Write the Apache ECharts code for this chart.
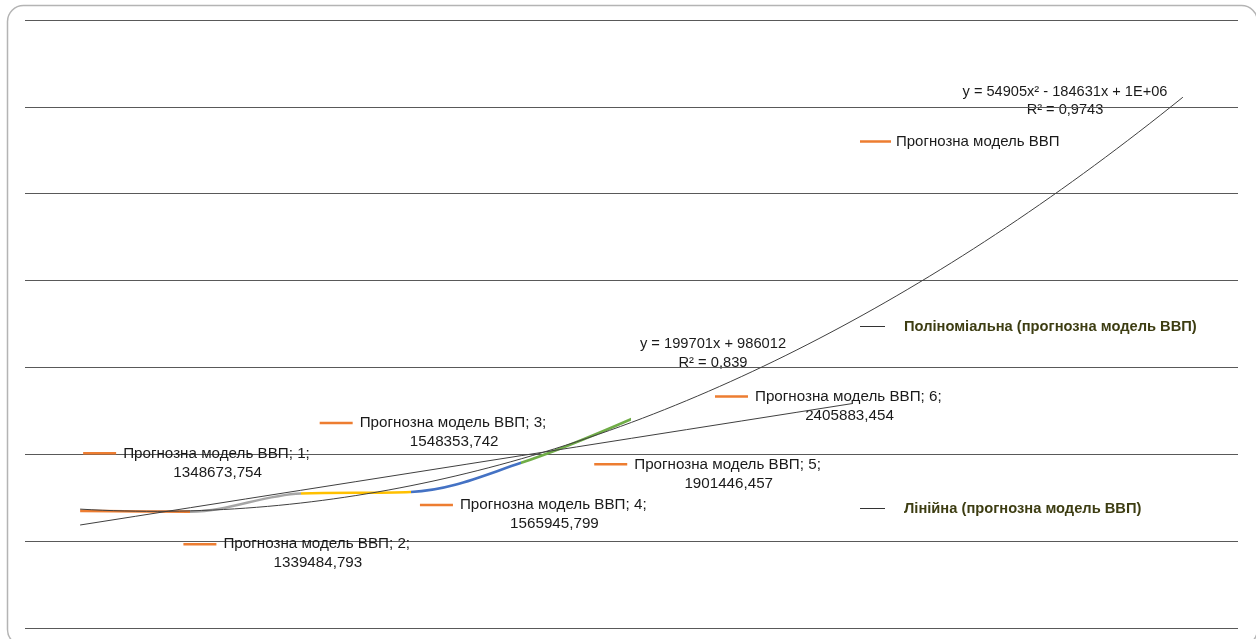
<!DOCTYPE html>
<html>
<head>
<meta charset="utf-8">
<script src="https://cdn.jsdelivr.net/npm/echarts@6/dist/echarts.min.js"></script>
<style>
html,body{margin:0;padding:0;background:#fff;}
#chart{width:1256px;height:639px;}
</style>
</head>
<body>
<div id="chart"></div>
<script>
// ---- data ----
const periods = [1, 2, 3, 4, 5, 6];
const gdpModel = [1348673.754, 1339484.793, 1548353.742, 1565945.799, 1901446.457, 2405883.454];
const valueLabels = ['1348673,754', '1339484,793', '1548353,742', '1565945,799', '1901446,457', '2405883,454'];
const seriesName = 'Прогнозна модель ВВП';
const polyName = 'Поліноміальна (прогнозна модель ВВП)';
const linName = 'Лінійна (прогнозна модель ВВП)';
const polyEq = ['y = 54905x² - 184631x + 1E+06', 'R² = 0,9743'];
const linEq = ['y = 199701x + 986012', 'R² = 0,839'];
const linForwardTo = 8;
const polyForwardTo = 11;

// ---- layout (label placement, px relative to point) ----
const labelOffsets = [[3, -67], [-7, 23], [19, -80], [9, 3.5], [73, -8], [83.5, -32]];
const segColors = ['#ED7D31', '#A5A5A5', '#FFC000', '#4472C4', '#70AD47'];

const FONT = '"Liberation Sans", Arial, sans-serif';
const FS = 15.2;

// ---- least squares fits from the data ----
function fitPoly(xs, ys, deg) {
  const n = deg + 1;
  const A = [];
  for (let i = 0; i < n; i++) A.push(new Array(n + 1).fill(0));
  for (let k = 0; k < xs.length; k++) {
    for (let i = 0; i < n; i++) {
      for (let j = 0; j < n; j++) A[i][j] += Math.pow(xs[k], i + j);
      A[i][n] += ys[k] * Math.pow(xs[k], i);
    }
  }
  for (let i = 0; i < n; i++) {
    let p = i;
    for (let r = i + 1; r < n; r++) if (Math.abs(A[r][i]) > Math.abs(A[p][i])) p = r;
    [A[i], A[p]] = [A[p], A[i]];
    for (let r = 0; r < n; r++) {
      if (r === i) continue;
      const f = A[r][i] / A[i][i];
      for (let c = i; c <= n; c++) A[r][c] -= f * A[i][c];
    }
  }
  return A.map((row, i) => row[n] / row[i]);
}
const linC = fitPoly(periods, gdpModel, 1);
const polyC = fitPoly(periods, gdpModel, 2);
function evalC(c, x) { let s = 0; for (let i = 0; i < c.length; i++) s += c[i] * Math.pow(x, i); return s; }
const linData = [];
for (let x = 1; x <= linForwardTo + 1e-9; x += 0.5) linData.push([x, evalC(linC, x)]);
const polyData = [];
for (let x = 1; x <= polyForwardTo + 1e-9; x += 0.1) polyData.push([x, evalC(polyC, x)]);

// ---- measure text for label block ----
const cv = document.createElement('canvas').getContext('2d');
cv.font = FS + 'px ' + FONT;

const mainData = periods.map((p, i) => {
  const t = seriesName + '; ' + p + ';';
  const W = Math.ceil(cv.measureText(t).width) + 2;
  return {
    value: [p, gdpModel[i]],
    label: {
      show: true,
      position: labelOffsets[i],
      align: 'left',
      verticalAlign: 'top',
      formatter: '{k|}{g|}{t|' + t + '}\n{s|}{n|' + valueLabels[i] + '}',
      rich: {
        k: { width: 33, height: 2.5, backgroundColor: '#ED7D31', verticalAlign: 'middle' },
        g: { width: 7 },
        t: { width: W, align: 'left', fontSize: FS, lineHeight: 19, color: '#1a1a1a', fontFamily: FONT },
        s: { width: 40 },
        n: { width: W, align: 'center', fontSize: FS, lineHeight: 19, color: '#1a1a1a', fontFamily: FONT }
      }
    }
  };
});

const chart = echarts.init(document.getElementById('chart'), null, { renderer: 'canvas' });
chart.setOption({
  animation: false,
  backgroundColor: '#fff',
  textStyle: { fontFamily: FONT },
  grid: { left: 25, right: 18, top: 20, bottom: 11 },
  xAxis: {
    type: 'value', min: 0.5, max: 11.5,
    show: false,
    splitLine: { show: false }
  },
  yAxis: {
    type: 'value', min: 0, max: 7000000, interval: 1000000,
    axisLine: { show: false }, axisTick: { show: false }, axisLabel: { show: false },
    splitLine: { show: true, lineStyle: { color: '#595959', width: 1.2 } }
  },
  visualMap: {
    type: 'piecewise', show: false, dimension: 0, seriesIndex: 0,
    pieces: segColors.map((c, i) => i === segColors.length - 1
      ? { gte: i + 1, lte: i + 2, color: c }
      : { gte: i + 1, lt: i + 2, color: c })
  },
  legend: [
    {
      data: [{ name: seriesName, icon: 'rect', itemStyle: { color: '#ED7D31', opacity: 1 } }],
      left: 860, top: 134, padding: 0, itemWidth: 31, itemHeight: 2.5,
      textStyle: { fontSize: 15, color: '#1a1a1a', fontFamily: FONT },
      selectedMode: false
    },
    {
      data: [{ name: polyName, icon: 'rect', itemStyle: { color: '#333333' } }],
      left: 860, top: 319, padding: 0, itemWidth: 25, itemHeight: 1,
      textStyle: { fontSize: 14.7, fontWeight: 'bold', color: '#3d3d12', fontFamily: FONT, padding: [0, 0, 0, 14] },
      selectedMode: false
    },
    {
      data: [{ name: linName, icon: 'rect', itemStyle: { color: '#333333' } }],
      left: 860, top: 501, padding: 0, itemWidth: 25, itemHeight: 1,
      textStyle: { fontSize: 14.7, fontWeight: 'bold', color: '#3d3d12', fontFamily: FONT, padding: [0, 0, 0, 14] },
      selectedMode: false
    }
  ],
  series: [
    {
      name: seriesName,
      type: 'line',
      smooth: 0.35,
      data: mainData,
      symbol: 'circle', symbolSize: 0.01,
      itemStyle: { color: '#ED7D31' },
      lineStyle: { width: 2.6 },
      z: 2
    },
    {
      name: polyName,
      type: 'line',
      data: polyData,
      showSymbol: false, symbol: 'none',
      lineStyle: { color: '#404040', width: 1 },
      itemStyle: { color: '#404040' },
      z: 3, silent: true
    },
    {
      name: linName,
      type: 'line',
      data: linData,
      showSymbol: false, symbol: 'none',
      lineStyle: { color: '#404040', width: 1 },
      itemStyle: { color: '#404040' },
      z: 3, silent: true
    }
  ],
  graphic: [
    {
      type: 'rect', silent: true, z: -1,
      shape: { x: 7.5, y: 5.5, width: 1250, height: 640, r: 16 },
      style: { fill: 'none', stroke: '#b4b4b4', lineWidth: 1.5 }
    },
    {
      type: 'text', silent: true,
      x: 1065, y: 83,
      style: { text: polyEq[0] + '\n' + polyEq[1], fill: '#1a1a1a', font: '14.6px ' + FONT, align: 'center', lineHeight: 18 }
    },
    {
      type: 'text', silent: true,
      x: 713, y: 334,
      style: { text: linEq[0] + '\n' + linEq[1], fill: '#1a1a1a', font: '14.7px ' + FONT, align: 'center', lineHeight: 19 }
    }
  ]
});
</script>
</body>
</html>
